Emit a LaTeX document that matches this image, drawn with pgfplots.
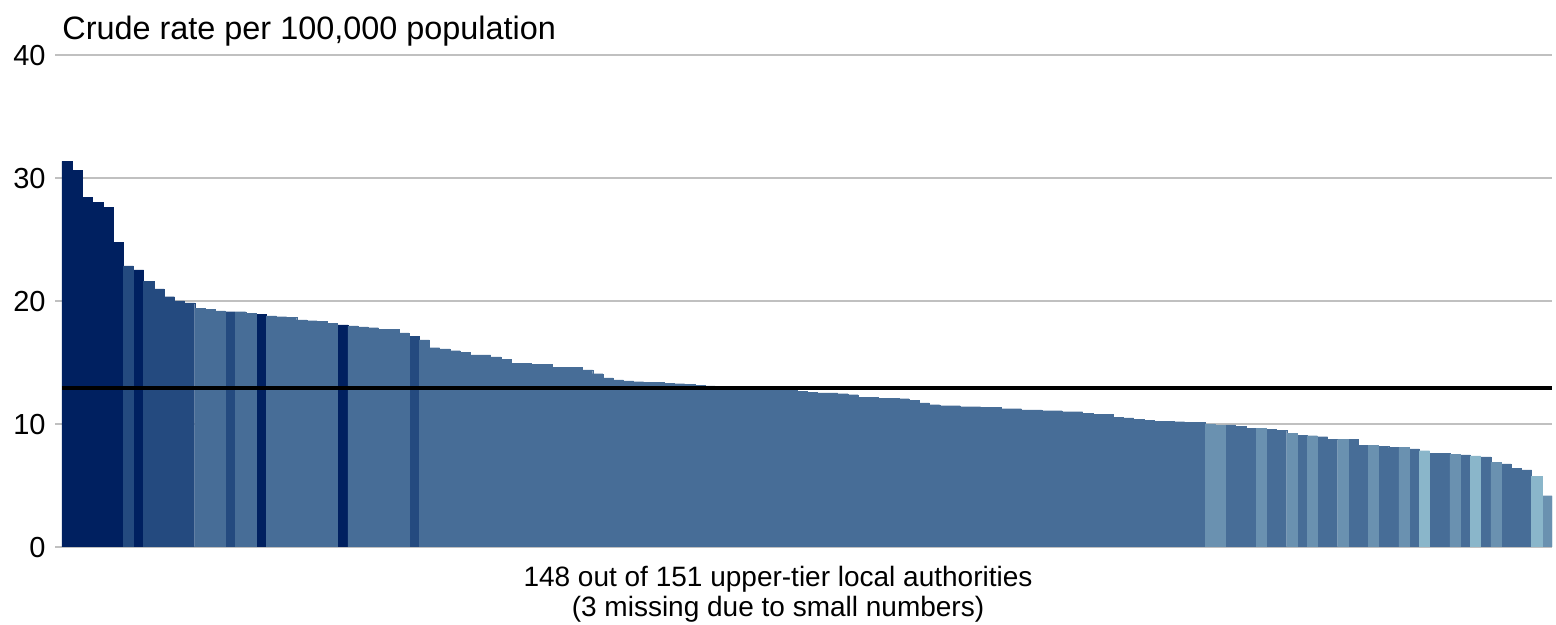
\documentclass[border=0pt]{standalone}
\usepackage{fontspec}
\setmainfont{Liberation Sans}
\usepackage{pgfplots}
\pgfplotsset{compat=1.18}

\definecolor{cD}{HTML}{002060}
\definecolor{cM}{HTML}{244A7F}
\definecolor{cL}{HTML}{476D97}
\definecolor{cP}{HTML}{6A91B0}
\definecolor{cV}{HTML}{8AB6CA}
\definecolor{gridgray}{HTML}{C0C0C0}

\pgfplotsset{
  rbar/.style={ybar, bar width=1, bar shift=0pt, fill=#1, draw=#1, line width=0.15pt},
}

\begin{document}
\begin{tikzpicture}
\useasboundingbox (0,0) rectangle (778pt,312.5pt);
\begin{axis}[
  at={(31pt,39pt)}, anchor=south west,
  scale only axis,
  width=745pt, height=246pt,
  xmin=0.5, xmax=146.5,
  ymin=0, ymax=40,
  xtick=\empty,
  ytick={0,10,20,30,40},
  ytick pos=left,
  tick align=outside,
  major tick length=3.5pt,
  ytick style={color=gridgray, line width=1.1pt},
  ymajorgrids,
  grid style={color=gridgray, line width=1.1pt},
  axis line style={draw=none},
  /pgf/number format/assume math mode=true,
  yticklabel style={font=\fontsize{14.5}{14.5}\selectfont, inner sep=1pt, xshift=-3.5pt, yshift=-0.5pt},
  title={Crude rate per 100,000 population},
  title style={at={(0,1)}, anchor=base west, yshift=1.85pt, inner sep=0pt,
    font=\fontsize{16.2}{16.2}\selectfont},
  xlabel={148 out of 151 upper-tier local authorities\\(3 missing due to small numbers)},
  xlabel style={at={(axis description cs:0.5,0)}, anchor=north, align=center,
    inner sep=0pt, yshift=-9.5pt, xshift=-14.5pt, font=\fontsize{14}{15}\selectfont},
]
% darkest
\addplot[rbar=cD] coordinates {(1,31.36) (2,30.6) (3,28.43) (4,28.02) (5,27.64) (6,24.77)
  (8,22.52) (20,18.92) (28,18.05)};
% dark
\addplot[rbar=cM] coordinates {(7,22.85) (9,21.6) (10,20.98) (11,20.35) (12,20.0) (13,19.84)
  (17,19.13) (35,17.15)};
% mid blue
\addplot[rbar=cL] coordinates {(14,19.4) (15,19.3) (16,19.19) (18,19.13) (19,19.0)
  (21,18.8) (22,18.72) (23,18.67) (24,18.46) (25,18.4) (26,18.35) (27,18.16)
  (29,17.97) (30,17.89) (31,17.83) (32,17.72) (33,17.72) (34,17.4)
  (36,16.83) (37,16.2) (38,16.1) (39,15.96) (40,15.85) (41,15.61) (42,15.61)
  (43,15.45) (44,15.28) (45,14.93) (46,14.93) (47,14.85) (48,14.85) (49,14.63)
  (50,14.63) (51,14.63) (52,14.39) (53,14.09) (54,13.74) (55,13.58) (56,13.5)
  (57,13.44) (58,13.39) (59,13.39) (60,13.33) (61,13.28) (62,13.2) (63,13.15)
  (64,13.1) (65,13.05) (66,13.0) (67,12.95) (68,12.9) (69,12.86) (70,12.82)
  (71,12.78) (72,12.72) (73,12.65) (74,12.6) (75,12.52) (76,12.52) (77,12.46)
  (78,12.38) (79,12.17) (80,12.17) (81,12.11) (82,12.11) (83,12.06) (84,11.9)
  (85,11.71) (86,11.57) (87,11.49) (88,11.49) (89,11.41) (90,11.41) (91,11.33)
  (92,11.33) (93,11.24) (94,11.24) (95,11.14) (96,11.14) (97,11.08) (98,11.08)
  (99,11.0) (100,11.0) (101,10.89) (102,10.81) (103,10.76) (104,10.54)
  (105,10.49) (106,10.38) (107,10.3) (108,10.22) (109,10.22) (110,10.19)
  (111,10.11) (112,10.11) (115,9.92) (116,9.81) (117,9.65) (119,9.57) (120,9.49)
  (122,9.1) (124,8.97) (125,8.78) (127,8.73) (128,8.27) (130,8.16) (131,8.08)
  (133,7.97) (135,7.64) (136,7.59) (138,7.48) (140,7.32) (142,6.75) (143,6.4)
  (144,6.26)};
% pale
\addplot[rbar=cP] coordinates {(113,10.0) (114,9.92) (118,9.65) (121,9.24) (123,9.05)
  (126,8.78) (129,8.27) (132,8.08) (137,7.53) (141,6.91) (146,4.17)};
% palest
\addplot[rbar=cV] coordinates {(134,7.83) (139,7.4) (145,5.75)};
% overall rate
\addplot[black, line width=2.2pt, mark=none] coordinates {(0.5,12.95) (146.5,12.95)};
\end{axis}
\end{tikzpicture}
\end{document}
